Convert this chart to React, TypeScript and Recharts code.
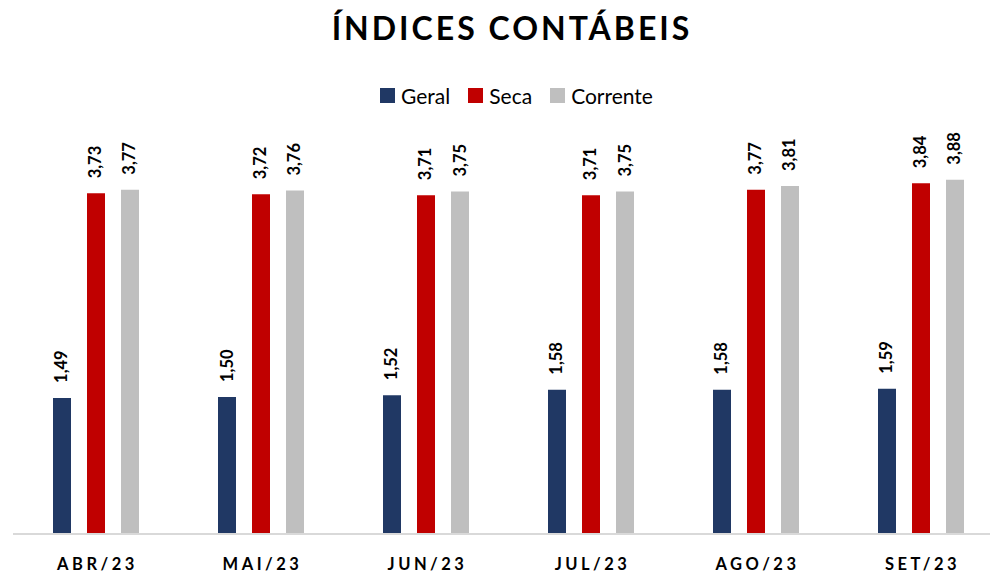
import React from "react";
import { BarChart, Bar, XAxis, YAxis, LabelList } from "recharts";

const categories = ["ABR/23", "MAI/23", "JUN/23", "JUL/23", "AGO/23", "SET/23"];
const geral = [1.49, 1.5, 1.52, 1.58, 1.58, 1.59];
const seca = [3.73, 3.72, 3.71, 3.71, 3.77, 3.84];
const corrente = [3.77, 3.76, 3.75, 3.75, 3.81, 3.88];

const seriesNames = ["Geral", "Seca", "Corrente"];
const colors = ["#203864", "#C00000", "#BFBFBF"];

const data = categories.map((c, i) => ({
  name: c,
  geral: geral[i],
  seca: seca[i],
  corrente: corrente[i],
}));

const FONT = "Lato, 'Open Sans', sans-serif";

const fmt = (v: number) => v.toFixed(2).replace(".", ",");

const RotLabel = (props: any) => {
  const { x, y, width, value } = props;
  const cx = x + width / 2 + 5.5;
  const cy = y - 15;
  return (
    <text
      x={cx}
      y={cy}
      transform={`rotate(-90 ${cx} ${cy})`}
      textAnchor="start"
      fontFamily={FONT}
      fontWeight={700}
      fontSize={16.5}
      fill="#000"
    >
      {fmt(value)}
    </text>
  );
};

const Tick = (props: any) => {
  const { x, y, payload } = props;
  return (
    <text
      x={x + 2}
      y={y + 28}
      textAnchor="middle"
      fontFamily={FONT}
      fontWeight={700}
      fontSize={16.5}
      letterSpacing={3.5}
      fill="#000"
    >
      {payload.value}
    </text>
  );
};

export default function App() {
  return (
    <div
      style={{
        position: "absolute",
        left: 0,
        top: 0,
        width: 990,
        height: 575,
        overflow: "hidden",
        background: "#fff",
        fontFamily: FONT,
      }}
    >
      <div
        style={{
          position: "absolute",
          left: 0,
          width: 1024,
          top: 8,
          textAlign: "center",
          fontSize: 32,
          fontWeight: 700,
          letterSpacing: 3,
          color: "#000",
        }}
      >
        ÍNDICES CONTÁBEIS
      </div>
      <div
        style={{
          position: "absolute",
          left: 0,
          width: 1033,
          top: 83,
          display: "flex",
          justifyContent: "center",
          gap: 18,
          fontSize: 21,
          color: "#000",
        }}
      >
        {seriesNames.map((n, i) => (
          <div key={n} style={{ display: "flex", alignItems: "center" }}>
            <span
              style={{
                display: "inline-block",
                width: 15,
                height: 15,
                background: colors[i],
                marginRight: 6,
              }}
            />
            <span>{n}</span>
          </div>
        ))}
      </div>
      <div style={{ position: "absolute", left: 0, top: 0 }}>
        <BarChart
          width={1010}
          height={575}
          data={data}
          margin={{ top: 123, right: 7, left: 13, bottom: 0 }}
          barSize={18}
          barGap={16}
        >
          <XAxis
            dataKey="name"
            height={41}
            axisLine={{ stroke: "#D9D9D9", strokeWidth: 2 }}
            tickLine={false}
            tick={<Tick />}
            interval={0}
          />
          <YAxis hide domain={[0, 4.5]} />
          <Bar dataKey="geral" fill={colors[0]} isAnimationActive={false}>
            <LabelList dataKey="geral" content={<RotLabel />} />
          </Bar>
          <Bar dataKey="seca" fill={colors[1]} isAnimationActive={false}>
            <LabelList dataKey="seca" content={<RotLabel />} />
          </Bar>
          <Bar dataKey="corrente" fill={colors[2]} isAnimationActive={false}>
            <LabelList dataKey="corrente" content={<RotLabel />} />
          </Bar>
        </BarChart>
      </div>
    </div>
  );
}
